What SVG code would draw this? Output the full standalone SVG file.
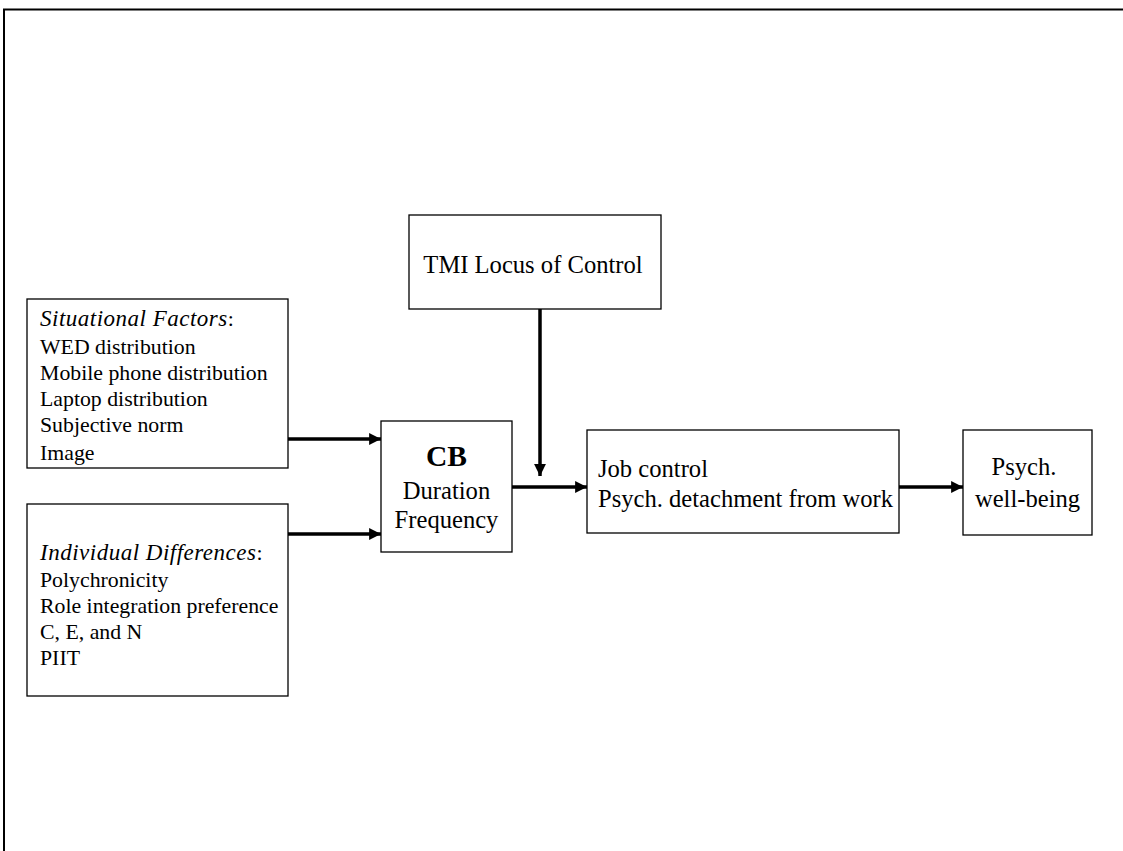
<svg xmlns="http://www.w3.org/2000/svg" width="1123" height="851" viewBox="0 0 1123 851">
<style>
.box{fill:#fff;stroke:#000;stroke-width:1.3}
.t{font-family:"Liberation Serif","Times New Roman",serif;font-size:24.6px;fill:#000}
.s{font-size:21.8px}
.i{font-style:italic;font-size:23px;letter-spacing:0.5px}
.b{font-weight:bold;font-size:29.5px}
.c{text-anchor:middle}
.conn{stroke:#000;stroke-width:3.5;fill:none}
</style>
<defs>
<marker id="ah" viewBox="0 0 10 10" refX="10" refY="5" markerWidth="3.8" markerHeight="3.4" orient="auto" markerUnits="strokeWidth">
<path d="M0,0 L10,5 L0,10 z" fill="#000"/>
</marker>
</defs>
<rect width="1123" height="851" fill="#fff"/>
<path d="M4,851 V9.5 H1123" fill="none" stroke="#000" stroke-width="2"/>
<g id="tmi">
<rect class="box" x="409" y="215" width="252" height="94"/>
<text class="t c" x="533" y="273">TMI Locus of Control</text>
</g>
<g id="situational">
<rect class="box" x="27" y="299" width="261" height="169"/>
<text class="t s" x="40" y="326"><tspan class="i">Situational Factors</tspan>:</text>
<text class="t s" x="40" y="354">WED distribution</text>
<text class="t s" x="40" y="380">Mobile phone distribution</text>
<text class="t s" x="40" y="406">Laptop distribution</text>
<text class="t s" x="40" y="432">Subjective norm</text>
<text class="t s" x="40" y="460">Image</text>
</g>
<g id="individual">
<rect class="box" x="27" y="504" width="261" height="192"/>
<text class="t s" x="40" y="560"><tspan class="i">Individual Differences</tspan>:</text>
<text class="t s" x="40" y="587">Polychronicity</text>
<text class="t s" x="40" y="613">Role integration preference</text>
<text class="t s" x="40" y="639">C, E, and N</text>
<text class="t s" x="40" y="665">PIIT</text>
</g>
<g id="cb">
<rect class="box" x="381" y="421" width="131" height="131"/>
<text class="t b c" x="446.5" y="466">CB</text>
<text class="t c" x="446.5" y="499">Duration</text>
<text class="t c" x="446.5" y="528">Frequency</text>
</g>
<g id="job">
<rect class="box" x="587" y="430" width="312" height="103"/>
<text class="t" x="598" y="477">Job control</text>
<text class="t" x="598" y="507">Psych. detachment from work</text>
</g>
<g id="wellbeing">
<rect class="box" x="963" y="430" width="129" height="105"/>
<text class="t c" x="1024" y="475">Psych.</text>
<text class="t c" x="1027.5" y="507">well-being</text>
</g>
<g id="connectors">
<line class="conn" x1="288" y1="439" x2="381" y2="439" marker-end="url(#ah)"/>
<line class="conn" x1="288" y1="534" x2="381" y2="534" marker-end="url(#ah)"/>
<line class="conn" x1="512" y1="487" x2="587" y2="487" marker-end="url(#ah)"/>
<line class="conn" x1="540" y1="309" x2="540" y2="476" marker-end="url(#ah)"/>
<line class="conn" x1="899" y1="487" x2="963" y2="487" marker-end="url(#ah)"/>
</g>
</svg>
